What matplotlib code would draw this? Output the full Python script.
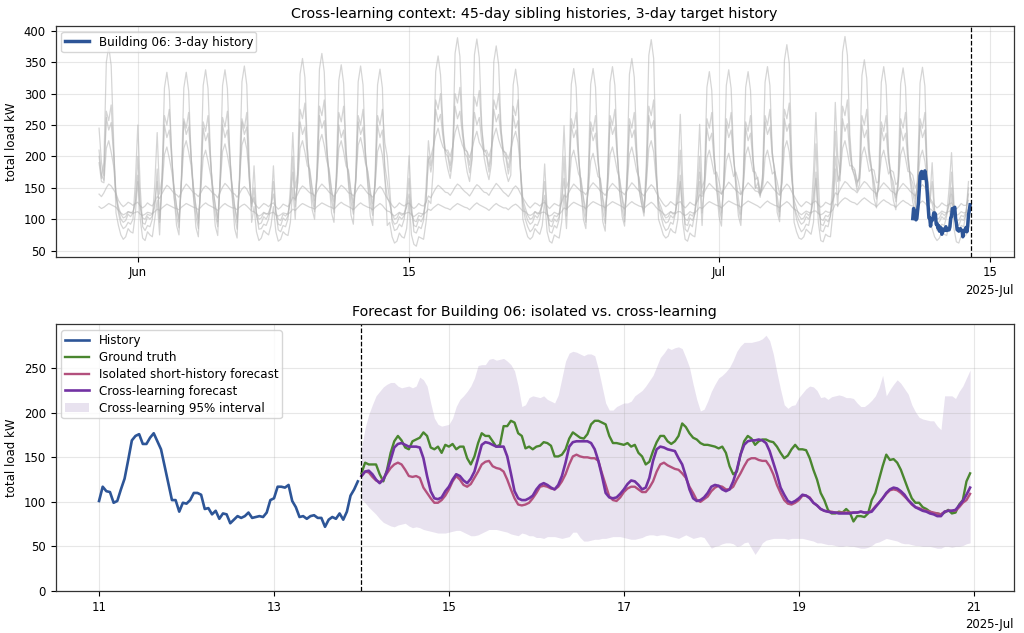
import numpy as np
import pandas as pd
import matplotlib
matplotlib.use("Agg")
import matplotlib.pyplot as plt
import matplotlib.dates as mdates
from matplotlib.patches import Patch
from matplotlib.lines import Line2D

# ---------------- data ----------------
sib_start = "2025-05-30 00:00"
sib_step = "3h"   # one row = one day, values at 00,03,...,21 h

sibling_a = [
    [200, 165, 190, 350, 375, 345, 225, 110], [90, 75, 68, 72, 85, 80, 78, 110], [160, 100, 70, 66, 80, 75, 72, 100],
    [130, 75, 167, 309, 334, 304, 200, 135], [90, 75, 167, 309, 334, 304, 200, 135], [87, 72, 169, 313, 338, 308, 203, 132],
    [89, 74, 169, 313, 338, 308, 203, 134], [85, 70, 172, 319, 344, 314, 190, 95], [120, 80, 66, 70, 82, 78, 75, 90],
    [120, 80, 65, 68, 80, 76, 74, 95], [150, 100, 178, 331, 356, 326, 214, 160], [115, 100, 182, 339, 364, 334, 218, 160],
    [110, 95, 173, 321, 346, 316, 208, 155], [107, 92, 172, 319, 344, 314, 206, 152], [105, 90, 170, 314, 339, 309, 170, 90],
    [95, 72, 62, 65, 78, 72, 70, 85], [130, 75, 60, 57, 72, 70, 68, 95], [130, 125, 180, 335, 360, 330, 250, 200],
    [180, 165, 195, 364, 389, 359, 255, 200], [175, 160, 194, 362, 387, 357, 252, 198], [178, 163, 188, 351, 376, 346, 245, 195],
    [175, 160, 170, 314, 339, 309, 180, 100], [85, 72, 68, 72, 85, 80, 76, 90], [130, 80, 65, 62, 75, 72, 70, 95],
    [140, 85, 170, 315, 340, 310, 204, 145], [100, 85, 170, 315, 340, 310, 204, 145], [96, 81, 172, 318, 343, 313, 206, 141],
    [104, 89, 178, 331, 356, 326, 214, 149], [125, 110, 193, 361, 386, 356, 200, 100], [88, 75, 70, 73, 85, 80, 78, 100],
    [170, 95, 68, 65, 78, 74, 72, 105], [160, 90, 168, 310, 335, 305, 201, 150], [104, 89, 169, 313, 338, 308, 203, 149],
    [105, 90, 168, 310, 335, 305, 201, 150], [150, 135, 172, 318, 343, 313, 206, 175], [111, 96, 189, 353, 378, 348, 200, 95],
    [80, 70, 68, 72, 84, 80, 76, 95], [175, 95, 66, 64, 76, 73, 72, 110], [180, 120, 196, 366, 391, 361, 235, 180],
    [167, 152, 177, 329, 354, 324, 212, 180], [133, 118, 172, 318, 343, 313, 206, 160], [130, 115, 171, 316, 341, 311, 205, 158],
    [127, 112, 171, 317, 342, 312, 170, 95], [85, 72, 66, 70, 80, 76, 74, 90], [140, 85, 64, 62, 74, 72, 75, 95],
]
sibling_b = [
    [245, 190, 169, 272, 257, 282, 212, 140], [110, 92, 85, 88, 95, 92, 100, 160], [250, 150, 88, 82, 90, 88, 100, 155],
    [238, 140, 165, 265, 250, 275, 206, 135], [106, 86, 162, 260, 245, 270, 203, 136], [105, 85, 159, 255, 240, 265, 199, 135],
    [108, 88, 163, 262, 247, 272, 204, 138], [104, 84, 162, 260, 245, 270, 162, 120], [185, 110, 84, 85, 92, 90, 100, 120],
    [185, 112, 83, 80, 90, 88, 100, 150], [238, 150, 171, 275, 260, 285, 214, 160], [132, 112, 174, 280, 265, 290, 218, 162],
    [130, 110, 168, 270, 255, 280, 210, 160], [128, 108, 165, 265, 250, 275, 206, 158], [126, 106, 165, 265, 250, 275, 222, 200],
    [150, 95, 82, 84, 92, 88, 100, 135], [201, 125, 80, 78, 88, 85, 98, 150], [225, 185, 210, 290, 275, 300, 240, 210],
    [205, 185, 215, 300, 285, 310, 245, 215], [206, 186, 213, 295, 280, 305, 242, 212], [204, 184, 210, 290, 275, 300, 240, 210],
    [202, 182, 205, 280, 265, 290, 175, 120], [100, 88, 80, 84, 92, 90, 100, 125], [188, 115, 80, 78, 90, 86, 100, 160],
    [249, 150, 162, 260, 245, 270, 203, 145], [115, 95, 159, 255, 240, 265, 199, 145], [113, 93, 165, 265, 250, 275, 206, 143],
    [116, 96, 162, 260, 245, 270, 203, 146], [125, 105, 174, 280, 265, 290, 174, 120], [105, 90, 82, 85, 95, 92, 110, 170],
    [267, 160, 84, 80, 92, 88, 110, 165], [251, 150, 162, 260, 245, 270, 203, 150], [120, 100, 162, 260, 245, 270, 203, 150],
    [119, 99, 159, 255, 240, 265, 199, 149], [158, 138, 165, 265, 250, 275, 206, 170], [124, 104, 171, 275, 260, 285, 171, 120],
    [100, 88, 80, 84, 92, 90, 110, 175], [270, 165, 82, 80, 90, 88, 105, 165], [286, 200, 174, 280, 265, 290, 218, 180],
    [178, 158, 165, 265, 250, 275, 206, 180], [152, 132, 159, 255, 240, 265, 199, 170], [148, 128, 162, 260, 245, 270, 203, 165],
    [142, 122, 162, 260, 245, 270, 162, 130], [190, 115, 82, 85, 92, 90, 105, 150], [206, 125, 82, 80, 90, 88, 110, 160],
]
sibling_c = [
    [210, 170, 162, 262, 242, 254, 204, 135], [115, 100, 95, 98, 108, 104, 110, 130], [200, 125, 94, 92, 104, 100, 105, 120],
    [180, 95, 155, 250, 230, 242, 195, 150], [121, 96, 158, 255, 235, 247, 199, 151], [119, 94, 152, 245, 225, 237, 191, 149],
    [121, 96, 155, 250, 230, 242, 195, 151], [120, 95, 158, 255, 235, 247, 170, 115], [150, 105, 92, 94, 104, 100, 108, 120],
    [160, 108, 92, 90, 102, 98, 105, 130], [200, 120, 158, 255, 235, 247, 199, 175], [145, 120, 164, 265, 245, 257, 207, 175],
    [143, 118, 155, 250, 230, 242, 195, 173], [141, 116, 158, 255, 235, 247, 199, 171], [140, 115, 155, 250, 230, 242, 185, 160],
    [130, 100, 92, 94, 104, 100, 106, 120], [165, 110, 90, 88, 100, 96, 104, 130], [200, 175, 200, 275, 255, 267, 230, 205],
    [200, 176, 203, 280, 260, 272, 235, 205], [199, 174, 198, 270, 250, 262, 225, 203], [200, 175, 200, 275, 255, 267, 230, 204],
    [197, 172, 195, 265, 245, 257, 180, 125], [110, 98, 92, 95, 106, 102, 110, 125], [160, 110, 90, 88, 100, 96, 104, 130],
    [200, 105, 155, 250, 230, 242, 195, 160], [130, 105, 152, 245, 225, 237, 191, 160], [129, 104, 158, 255, 235, 247, 199, 159],
    [131, 106, 155, 250, 230, 242, 195, 161], [137, 112, 164, 265, 245, 257, 180, 125], [112, 100, 94, 96, 106, 102, 110, 140],
    [210, 125, 92, 90, 102, 98, 108, 140], [200, 110, 152, 245, 225, 237, 191, 165], [135, 110, 155, 250, 230, 242, 195, 165],
    [133, 108, 152, 245, 225, 237, 191, 163], [167, 142, 158, 255, 235, 247, 199, 180], [137, 112, 161, 260, 240, 252, 175, 120],
    [108, 98, 92, 95, 104, 100, 110, 140], [220, 125, 92, 90, 100, 96, 105, 135], [240, 170, 161, 260, 240, 252, 203, 180],
    [170, 145, 155, 250, 230, 242, 195, 178], [161, 136, 152, 245, 225, 237, 191, 170], [159, 134, 152, 245, 225, 237, 191, 168],
    [157, 132, 155, 250, 230, 242, 170, 125], [160, 110, 94, 96, 104, 100, 108, 125], [175, 115, 92, 90, 100, 98, 108, 150],
]
sibling_d = [
    [190, 160, 158, 213, 225, 207, 185, 140], [120, 108, 102, 104, 112, 110, 112, 125], [170, 118, 102, 100, 108, 106, 108, 125],
    [160, 100, 151, 203, 215, 197, 176, 150], [120, 100, 158, 213, 225, 207, 185, 150], [120, 100, 147, 198, 210, 192, 172, 150],
    [122, 102, 154, 208, 220, 202, 180, 152], [120, 100, 161, 218, 230, 212, 170, 125], [135, 110, 100, 102, 110, 108, 110, 122],
    [140, 112, 100, 98, 108, 105, 110, 128], [175, 130, 158, 213, 225, 207, 185, 180], [150, 130, 165, 223, 235, 217, 193, 180],
    [148, 128, 158, 213, 225, 207, 185, 178], [146, 126, 161, 218, 230, 212, 189, 176], [145, 125, 154, 208, 220, 202, 165, 135],
    [125, 108, 100, 102, 110, 106, 110, 120], [140, 110, 98, 96, 106, 104, 110, 128], [195, 200, 215, 233, 245, 227, 215, 210],
    [210, 200, 215, 238, 250, 232, 218, 210], [208, 198, 212, 228, 240, 222, 215, 208], [210, 200, 214, 233, 245, 227, 215, 208],
    [206, 196, 210, 228, 240, 222, 180, 132], [118, 106, 100, 102, 112, 108, 112, 122], [138, 110, 98, 96, 106, 104, 110, 128],
    [165, 115, 147, 198, 210, 192, 172, 165], [135, 115, 144, 193, 205, 187, 168, 165], [134, 114, 151, 203, 215, 197, 176, 164],
    [136, 116, 151, 203, 215, 197, 176, 166], [140, 120, 158, 213, 225, 207, 165, 130], [120, 108, 102, 104, 112, 108, 112, 130],
    [160, 112, 100, 98, 108, 105, 112, 135], [175, 140, 150, 198, 210, 192, 172, 175], [160, 140, 150, 193, 205, 187, 168, 175],
    [160, 140, 151, 203, 215, 197, 176, 175], [162, 142, 150, 198, 210, 192, 172, 176], [160, 140, 158, 213, 225, 207, 165, 130],
    [118, 106, 100, 102, 110, 106, 112, 130], [165, 112, 100, 98, 106, 104, 110, 130], [200, 160, 172, 213, 225, 207, 185, 185],
    [180, 160, 165, 203, 215, 197, 176, 180], [178, 158, 160, 198, 210, 192, 172, 178], [175, 155, 160, 203, 215, 197, 176, 175],
    [170, 150, 158, 198, 210, 192, 160, 130], [125, 108, 100, 102, 110, 106, 110, 122], [150, 112, 100, 98, 106, 104, 112, 140],
]
sibling_e = [
    [140, 136, 142, 150, 156, 153, 147, 141], [130, 124, 120, 123, 127, 125, 122, 125], [127, 121, 118, 121, 126, 123, 121, 128],
    [136, 133, 141, 148, 154, 151, 146, 141], [139, 135, 143, 150, 156, 152, 147, 142], [140, 136, 142, 149, 153, 150, 146, 141],
    [139, 134, 143, 151, 157, 153, 148, 142], [140, 135, 141, 148, 152, 148, 140, 133], [127, 121, 117, 121, 125, 123, 120, 124],
    [126, 120, 116, 119, 124, 122, 120, 126], [135, 132, 140, 148, 153, 150, 146, 142], [141, 137, 144, 151, 156, 152, 148, 143],
    [140, 136, 142, 149, 154, 151, 147, 142], [141, 137, 143, 150, 155, 151, 146, 141], [139, 135, 141, 148, 152, 148, 140, 133],
    [128, 122, 118, 121, 126, 123, 121, 124], [126, 120, 117, 120, 125, 122, 121, 127], [137, 134, 142, 149, 154, 151, 147, 143],
    [142, 138, 144, 151, 156, 153, 148, 144], [141, 137, 143, 150, 155, 152, 147, 143], [142, 138, 145, 151, 157, 153, 148, 143],
    [140, 136, 142, 149, 153, 149, 141, 134], [128, 122, 118, 122, 126, 124, 121, 125], [127, 121, 117, 121, 125, 123, 121, 127],
    [138, 135, 143, 150, 156, 152, 148, 144], [143, 139, 146, 153, 158, 154, 150, 145], [142, 138, 145, 152, 157, 153, 149, 144],
    [143, 139, 146, 152, 158, 154, 149, 145], [141, 137, 144, 150, 155, 151, 143, 136], [130, 124, 120, 123, 128, 125, 122, 126],
    [128, 122, 118, 122, 127, 124, 122, 128], [139, 136, 144, 151, 157, 153, 149, 145], [144, 140, 147, 153, 159, 155, 150, 146],
    [143, 139, 146, 152, 158, 154, 150, 145], [144, 140, 147, 154, 160, 156, 151, 146], [142, 138, 145, 151, 156, 152, 144, 137],
    [130, 124, 120, 124, 128, 126, 123, 127], [129, 123, 119, 122, 127, 125, 123, 130], [142, 139, 147, 154, 160, 157, 152, 148],
    [146, 142, 149, 155, 160, 157, 152, 147], [144, 140, 147, 153, 158, 154, 150, 145], [143, 139, 146, 152, 157, 153, 149, 144],
    [141, 137, 144, 150, 155, 151, 142, 134], [128, 122, 118, 121, 126, 123, 121, 124], [126, 120, 116, 120, 125, 122, 122, 130],
]
sibling_f = [
    [120, 117, 119, 122, 125, 123, 121, 119], [114, 110, 107, 109, 112, 111, 109, 111], [112, 108, 106, 108, 111, 110, 109, 112],
    [116, 114, 118, 121, 124, 122, 120, 118], [117, 115, 119, 122, 125, 123, 121, 119], [118, 115, 119, 123, 126, 123, 121, 119],
    [117, 114, 118, 122, 125, 122, 120, 118], [118, 115, 119, 122, 124, 121, 117, 113], [112, 108, 105, 107, 111, 109, 108, 110],
    [111, 107, 105, 107, 110, 109, 108, 111], [116, 114, 118, 122, 125, 123, 121, 119], [118, 116, 120, 123, 126, 124, 122, 120],
    [119, 116, 120, 124, 127, 124, 122, 120], [118, 115, 119, 123, 126, 123, 121, 119], [118, 115, 119, 122, 125, 122, 117, 113],
    [112, 108, 105, 108, 111, 109, 108, 110], [111, 107, 104, 107, 110, 109, 108, 111], [116, 114, 118, 121, 124, 122, 120, 118],
    [117, 115, 119, 122, 125, 123, 121, 119], [118, 115, 119, 123, 126, 123, 121, 119], [117, 114, 118, 122, 125, 122, 120, 118],
    [118, 115, 119, 122, 124, 121, 117, 113], [112, 108, 106, 108, 112, 110, 109, 111], [111, 107, 105, 107, 111, 109, 108, 112],
    [118, 116, 120, 124, 127, 125, 123, 121], [120, 117, 121, 125, 128, 126, 124, 122], [121, 118, 122, 125, 128, 126, 124, 122],
    [120, 117, 121, 125, 128, 125, 123, 121], [120, 117, 121, 124, 127, 124, 119, 115], [113, 109, 106, 109, 112, 110, 109, 112],
    [112, 108, 106, 108, 112, 110, 110, 114], [119, 117, 121, 125, 128, 126, 124, 122], [121, 118, 122, 126, 129, 127, 125, 123],
    [122, 119, 123, 126, 129, 127, 125, 123], [121, 118, 122, 126, 129, 126, 124, 122], [121, 118, 122, 125, 128, 125, 120, 116],
    [114, 110, 107, 110, 113, 111, 110, 113], [113, 109, 107, 109, 113, 111, 111, 115], [124, 122, 127, 131, 134, 132, 129, 127],
    [126, 123, 127, 131, 134, 131, 128, 125], [123, 120, 124, 128, 131, 128, 126, 123], [122, 119, 123, 127, 130, 127, 125, 122],
    [121, 118, 122, 126, 129, 126, 121, 117], [114, 110, 107, 109, 113, 111, 110, 113], [112, 108, 106, 108, 112, 110, 111, 116],
]

history_start = "2025-07-11 00:00"
history = [101, 117, 112, 111, 99, 101, 114, 126, 147, 169, 174, 176, 165, 165, 172, 177, 168, 159, 140, 121,
           102, 102, 89, 99, 98, 102, 110, 110, 108, 92, 93, 86, 90, 81, 87, 86, 76, 80, 84, 82,
           84, 88, 82, 83, 84, 83, 88, 102, 104, 117, 117, 116, 119, 101, 94, 83, 84, 81, 84, 85,
           82, 82, 72, 80, 83, 81, 87, 80, 89, 107, 114, 123]

forecast_start = "2025-07-14 00:00"
ground_truth = [132, 144, 142, 142, 142, 131, 123, 136, 155, 168, 174, 169, 161, 159, 168, 170, 172, 178, 174, 161,
                159, 162, 155, 164, 162, 165, 159, 162, 162, 149, 142, 151, 166, 177, 174, 174, 168, 162, 164, 185,
                185, 191, 189, 177,
                174, 160, 162, 159, 162, 163, 167, 166, 163, 151, 151, 153, 159, 171, 178, 175, 172, 171, 176, 187,
                191, 191, 189, 187, 174, 166, 166, 165, 164, 166, 162, 164, 155, 151, 142, 145, 157, 167, 174, 174,
                168, 165, 168, 174, 188, 184, 177, 172, 170, 166, 164, 164, 163, 162, 160, 162, 155, 140, 131, 134,
                153, 168, 174, 171, 164, 168, 170, 170, 168, 167, 162, 155, 149, 152, 159, 164, 159, 159, 158, 149,
                136, 125, 110, 102, 91, 87, 87, 89, 88, 92, 88, 78, 84, 84, 83, 87, 102, 110, 125, 140,
                153, 147, 148, 144, 136, 125, 114, 104, 99, 99, 94, 92, 89, 87, 87, 86, 88, 91, 87, 88,
                97, 102, 123, 132]
isolated_forecast = [129, 134, 133, 128, 124, 122, 126, 132, 138, 142, 144, 142, 136, 129, 128, 129, 127, 116, 110, 104,
                     99, 99, 102, 107, 114, 123, 129, 125, 119, 117, 120, 127, 134, 142, 145, 146, 140, 138, 137, 134,
                     125, 114, 104, 97,
                     96, 97, 99, 104, 110, 117, 118, 117, 115, 114, 117, 123, 131, 142, 151, 153, 151, 150, 150, 149,
                     149, 146, 132, 119, 106, 102, 101, 105, 111, 115, 117, 117, 114, 111, 111, 116, 123, 134, 142, 144,
                     141, 139, 137, 136, 132, 127, 117, 110, 102, 100, 103, 106, 112, 116, 118, 117, 114, 114, 117, 125,
                     132, 140, 147, 149, 149, 147, 146, 146, 140, 131, 119, 110, 102, 98, 97, 99, 102, 107, 107, 105,
                     99, 96, 92, 90, 89, 89, 88, 88, 88, 88, 88, 88, 88, 89, 88, 88, 90, 95, 99, 104,
                     109, 113, 114, 113, 110, 106, 102, 97, 94, 93, 91, 90, 89, 88, 87, 86, 89, 90, 90, 90,
                     94, 99, 102, 109]
cross_forecast = [129, 134, 135, 131, 125, 121, 125, 134, 147, 161, 165, 166, 164, 162, 162, 162, 161, 149, 129, 112,
                  104, 103, 105, 112, 117, 125, 131, 129, 124, 121, 126, 134, 149, 164, 167, 166, 164, 162, 162, 162,
                  151, 132, 112, 104,
                  102, 102, 104, 107, 114, 119, 121, 119, 116, 114, 119, 129, 144, 162, 167, 168, 168, 168, 168, 166,
                  159, 146, 129, 110, 105, 104, 105, 109, 114, 120, 124, 123, 119, 114, 116, 127, 146, 159, 162, 161,
                  159, 158, 157, 149, 142, 129, 114, 104, 101, 102, 105, 110, 117, 119, 118, 114, 112, 114, 123, 136,
                  153, 164, 168, 169, 169, 170, 169, 166, 157, 144, 131, 116, 108, 101, 99, 101, 104, 108, 107, 104,
                  99, 96, 92, 90, 89, 88, 88, 87, 87, 87, 87, 88, 88, 89, 88, 88, 89, 94, 99, 104,
                  110, 114, 116, 115, 112, 108, 102, 98, 94, 92, 90, 89, 87, 86, 84, 84, 89, 90, 90, 91,
                  96, 101, 108, 116]
cross_upper = [160, 183, 198, 209, 219, 224, 229, 232, 234, 234, 230, 228, 229, 230, 228, 230, 240, 237, 230, 211,
               194, 187, 185, 186, 187, 194, 207, 215, 219, 224, 230, 239, 253, 254, 254, 260, 261, 259, 260, 261,
               258, 254, 247, 230,
               207, 209, 217, 219, 218, 217, 219, 215, 213, 211, 220, 239, 258, 267, 269, 268, 266, 264, 266, 266,
               264, 249, 230, 211, 203, 203, 207, 209, 211, 211, 213, 219, 222, 225, 230, 236, 242, 252, 262, 267,
               273, 271, 273, 274, 272, 262, 251, 232, 215, 202, 204, 213, 224, 232, 239, 242, 246, 251, 259, 269,
               275, 279, 279, 279, 280, 281, 283, 287, 281, 266, 245, 226, 209, 205, 208, 209, 217, 222, 227, 230,
               229, 225, 217, 218, 215, 218, 219, 220, 219, 217, 217, 216, 211, 207, 207, 210, 214, 219, 228, 242,
               219, 226, 232, 237, 233, 227, 221, 209, 201, 195, 193, 192, 191, 191, 185, 181, 219, 219, 219, 216,
               224, 230, 239, 248]
cross_lower = [103, 99, 94, 90, 86, 81, 77, 75, 73, 72, 74, 75, 76, 73, 71, 72, 71, 69, 68, 67,
               66, 65, 65, 65, 66, 67, 68, 68, 66, 64, 62, 62, 63, 65, 67, 69, 69, 69, 68, 67,
               66, 64, 63, 62,
               65, 64, 62, 62, 60, 60, 59, 61, 61, 61, 60, 59, 60, 61, 66, 66, 60, 56, 56, 57,
               58, 58, 59, 59, 60, 61, 61, 61, 60, 59, 58, 58, 59, 60, 62, 63, 63, 62, 63, 63,
               62, 61, 60, 59, 61, 63, 61, 59, 60, 61, 60, 54, 48, 50, 51, 53, 54, 54, 53, 50,
               51, 54, 55, 48, 41, 47, 54, 57, 58, 59, 59, 59, 59, 58, 59, 59, 59, 59, 58, 57,
               56, 54, 54, 53, 52, 52, 51, 50, 50, 51, 50, 50, 49, 48, 48, 49, 51, 54, 55, 57,
               59, 58, 57, 56, 54, 53, 53, 52, 51, 51, 50, 50, 50, 49, 48, 48, 50, 50, 49, 50,
               50, 51, 53, 54]

# ---------------- style ----------------
BLUE = "#2d5597"
GREEN = "#4a862f"
PINK = "#b3507d"
PURPLE = "#7232a3"
BAND = "#6a3d9a"
GREY = "#b4b4b4"

plt.rcParams.update({
    "font.family": "DejaVu Sans",
    "font.size": 8.5,
    "axes.titlesize": 10.3,
    "axes.labelsize": 8.5,
    "xtick.labelsize": 8.4,
    "ytick.labelsize": 8.4,
    "legend.fontsize": 8.6,
    "axes.linewidth": 0.9,
    "axes.edgecolor": "#333333",
})

fig = plt.figure(figsize=(10.24, 6.33), dpi=100)
ax1 = fig.add_axes([0.0542, 0.5945, 0.9357, 0.3644])
ax2 = fig.add_axes([0.0542, 0.0664, 0.9357, 0.4213])

# ---------- top panel ----------
siblings = [sibling_a, sibling_b, sibling_c, sibling_d, sibling_e, sibling_f]
for s in siblings:
    vals = np.ravel(np.array(s, dtype=float))
    t = pd.date_range(sib_start, periods=len(vals), freq=sib_step)
    ax1.plot(t, vals, color=GREY, alpha=0.55, lw=0.9)

t_hist = pd.date_range(history_start, periods=len(history), freq="h")
ax1.plot(t_hist, history, color=BLUE, lw=2.5, label="Building 06: 3-day history")
ax1.axvline(pd.Timestamp(forecast_start), color="black", ls="--", lw=0.9)
ax1.set_title("Cross-learning context: 45-day sibling histories, 3-day target history")
ax1.set_ylabel("total load kW")
ax1.grid(True, alpha=0.3)
ax1.legend(loc="upper left", borderpad=0.3)
loc1 = mdates.DayLocator(bymonthday=[1, 15])
ax1.xaxis.set_major_locator(loc1)
ax1.xaxis.set_major_formatter(mdates.ConciseDateFormatter(loc1))

# ---------- bottom panel ----------
t_fc = pd.date_range(forecast_start, periods=len(ground_truth), freq="h")
ax2.fill_between(t_fc, cross_lower, cross_upper, color=BAND, alpha=0.15, lw=0)
ax2.plot(t_hist, history, color=BLUE, lw=1.9)
ax2.plot(t_fc, ground_truth, color=GREEN, lw=1.7)
ax2.plot(t_fc, isolated_forecast, color=PINK, lw=1.7)
ax2.plot(t_fc, cross_forecast, color=PURPLE, lw=1.9)
ax2.axvline(pd.Timestamp(forecast_start), color="black", ls="--", lw=0.9)
ax2.set_ylim(bottom=0)
ax2.set_title("Forecast for Building 06: isolated vs. cross-learning")
ax2.set_ylabel("total load kW")
ax2.grid(True, alpha=0.3)
handles = [
    Line2D([], [], color=BLUE, lw=1.9),
    Line2D([], [], color=GREEN, lw=1.7),
    Line2D([], [], color=PINK, lw=1.7),
    Line2D([], [], color=PURPLE, lw=1.9),
    Patch(facecolor=BAND, alpha=0.15, edgecolor="none"),
]
labels = ["History", "Ground truth", "Isolated short-history forecast",
          "Cross-learning forecast", "Cross-learning 95% interval"]
ax2.legend(handles, labels, loc="upper left", labelspacing=0.33, borderpad=0.3)
loc2 = mdates.DayLocator(bymonthday=[11, 13, 15, 17, 19, 21])
ax2.xaxis.set_major_locator(loc2)
ax2.xaxis.set_major_formatter(mdates.ConciseDateFormatter(loc2))

fig.savefig("out.png", dpi=100)
